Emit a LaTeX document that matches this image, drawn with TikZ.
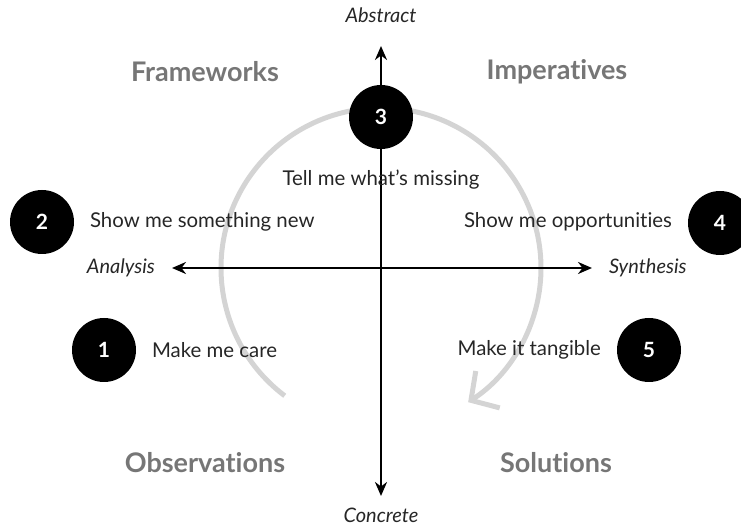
\documentclass[tikz,border=0pt]{standalone}
\usepackage{fontspec}
\setmainfont{Lato}[Ligatures=NoCommon]
\usetikzlibrary{arrows.meta}
\definecolor{ringgray}{HTML}{D4D4D4}
\definecolor{headgray}{HTML}{767676}
\definecolor{inkgray}{HTML}{262626}
\begin{document}
\begin{tikzpicture}[x=0.5pt,y=-0.5pt,
  numdot/.style={circle, fill, minimum size=32pt, inner sep=0pt, text=white, font=\bfseries\fontsize{10.5}{12}\selectfont},
  phrase/.style={text=inkgray, font=\fontsize{10.2}{12}\selectfont},
  quadrant/.style={text=headgray, font=\bfseries\fontsize{13.5}{15}\selectfont},
  pole/.style={text=inkgray, font=\itshape\fontsize{10}{12}\selectfont},
  axis/.style={line width=1.2pt, {Stealth[length=7pt,width=6pt]}-{Stealth[length=7pt,width=6pt]}},
  ring/.style={ringgray, line width=2.5pt, -{Straight Barb[length=10pt,width=22pt]}}]
\useasboundingbox (0,0) rectangle (741,529);
\coordinate (hub) at (381,268);
\coordinate (top) at (381,46);
\coordinate (bottom) at (381,496);
\coordinate (left) at (172,268);
\coordinate (right) at (592,268);
% cycle
\draw[ring] (hub) ++(127:160) arc[start angle=127, end angle=417, radius=160];
% axes
\draw[axis] (bottom) -- (top);
\draw[axis] (left) -- (right);
\node[pole] (abstract) at (381,15) {Abstract};
\node[pole] (concrete) at (381,515) {Concrete};
\node[pole, anchor=east] (analysis) at (162,268) {Analysis};
\node[pole, anchor=west] (synthesis) at (602,268) {Synthesis};
% quadrants
\node[quadrant] (frameworks) at (205,72) {Frameworks};
\node[quadrant] (imperatives) at (557,72) {Imperatives};
\node[quadrant] (observations) at (205,463) {Observations};
\node[quadrant] (solutions) at (556,463) {Solutions};
% steps
\node[numdot] (one) at (104,350) {1};
\node[numdot] (two) at (42,222) {2};
\node[numdot] (three) at (381,117) {3};
\node[numdot] (four) at (720,223) {4};
\node[numdot] (five) at (649,350) {5};
\node[phrase, anchor=west] (care) at (145,350) {Make me care};
\node[phrase, anchor=west] (new) at (83,222) {Show me something new};
\node[phrase] (missing) at (381,180) {Tell me what’s missing};
\node[phrase, anchor=east] (opps) at (679,222) {Show me opportunities};
\node[phrase, anchor=east] (tangible) at (608,350) {Make it tangible};
\end{tikzpicture}
\end{document}
